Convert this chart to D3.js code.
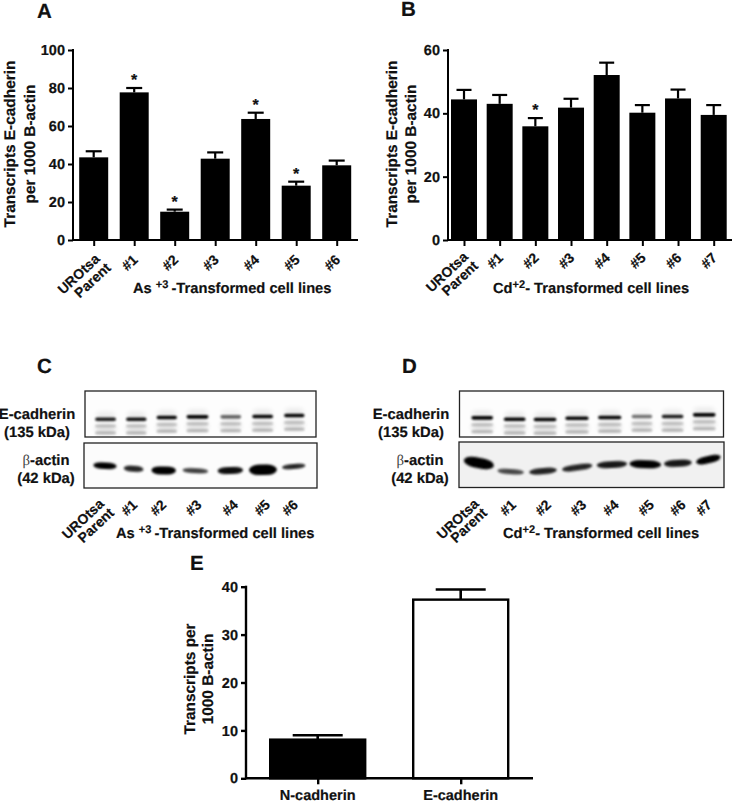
<!DOCTYPE html>
<html><head><meta charset="utf-8">
<script src="https://cdn.jsdelivr.net/npm/d3@7/dist/d3.min.js"></script>
<style>
html,body{margin:0;padding:0;background:#fff}
svg{display:block}
text{font-family:"Liberation Sans",Arial,sans-serif;font-weight:bold;fill:#111;stroke:#111;stroke-width:.2px;text-rendering:geometricPrecision}
</style></head><body><div id="c"></div>
<script>
// ---------- bar chart data ----------
const asLines=["UROtsa Parent","#1","#2","#3","#4","#5","#6"];
const asValues=[43.5,77.7,14.9,42.8,63.7,28.6,39.3];
const asErrorTops=[46.7,80,16,46.1,67,30.7,41.8];
const asStars=["#1","#2","#4","#5"];
const asTicks=[0,20,40,60,80,100];
const cdLines=["UROtsa Parent","#1","#2","#3","#4","#5","#6","#7"];
const cdValues=[44.4,43,35.9,41.8,52.1,40.2,44.7,39.5];
const cdErrorTops=[47.4,45.8,38.5,44.6,56,42.6,47.5,42.6];
const cdStars=["#2"];
const cdTicks=[0,20,40,60];
const cadherins=["N-cadherin","E-cadherin"];
const cadherinValues=[8.07,37.3];
const cadherinErrorTops=[9,39.4];
const cadherinTicks=[0,10,20,30,40];
// ---------- western blot readings (lane centre, migration: fractions of the membrane) ----------
const cEcadLane=[.089,.222,.354,.487,.631,.769,.906];
const cEcadMig=[.613,.613,.577,.562,.562,.555,.533];
const cEcadInt=[.9,.95,1,1,.6,1,1];
const cEcadWidth=[.09,.088,.088,.095,.09,.09,.088];
const cActLane=[.09,.213,.342,.478,.628,.768,.9];
const cActMig=[.507,.573,.61,.617,.61,.596,.522];
const cActInt=[1,.85,1,.75,.95,1,.85];
const cActThick=[1,.9,1.25,.8,1.1,1.6,.8];
const cActWidth=[.1,.085,.105,.11,.11,.12,.1];
const cActTilt=[3,4,1,3,-2,-1,-5];
const dEcadLane=[.086,.209,.324,.445,.569,.691,.807,.927];
const dEcadMig=[.584,.613,.62,.591,.577,.555,.555,.518];
const dEcadInt=[1,1,1,1,1,.55,.9,1];
const dEcadWidth=[.082,.082,.086,.088,.088,.078,.082,.086];
const dActLane=[.075,.195,.317,.446,.577,.703,.826,.941];
const dActMig=[.46,.65,.64,.56,.496,.489,.467,.387];
const dActInt=[1,.7,.85,.85,.9,1,.9,1];
const dActThick=[1.6,.8,.95,.95,1.05,1.25,1.05,1.1];
const dActWidth=[.115,.1,.105,.115,.115,.12,.105,.095];
const dActTilt=[11,4,-5,-8,-3,2,-3,-13];
// lane label centres on the blots, as fractions of each membrane
const cLabelLanes=[.065,.2,.325,.478,.636,.775,.896];
const dLabelLanes=[.058,.191,.324,.457,.58,.714,.834,.933];

const W=734,H=803;
const svg=d3.select("#c").append("svg").attr("width",W).attr("height",H).attr("viewBox",[0,0,W,H]);
const defs=svg.append("defs");
function blurFilter(id,sd){
  defs.append("filter").attr("id",id).attr("x","-20%").attr("y","-100%").attr("width","140%").attr("height","300%")
    .append("feGaussianBlur").attr("stdDeviation",sd);
}
blurFilter("blurThin",.8);
blurFilter("blur",1);
blurFilter("blurWide",2.6);

function letter(t,x,y){svg.append("text").attr("x",x).attr("y",y).attr("font-size",20.5).text(t);}

function supLabel(parts,x,y){
  const t=svg.append("text").attr("x",x).attr("y",y).attr("font-size",14.7);
  parts.forEach(([s,sup])=>{
    t.append("tspan").attr("font-size",sup===1?11:14.7).attr("dy",sup===1?-5:sup===-1?5:0).text(s);
  });
}

function rotLabel(text,x,y){
  svg.append("text").attr("transform",`translate(${x},${y}) rotate(-43)`)
    .attr("text-anchor","end").attr("font-size",14).text(text);
}

function barPanel(o){
  const lw=o.lw||2;
  const y=d3.scaleLinear().domain(o.domain).range([o.y0,o.y1]);
  const x=d3.scalePoint().domain(o.cats).range([o.cx0,o.cx1]);
  const g=svg.append("g");
  o.cats.forEach((c,i)=>{
    const cx=x(c);
    g.append("line").attr("x1",cx).attr("x2",cx).attr("y1",y(o.vals[i])).attr("y2",y(o.errs[i])).attr("stroke","#000").attr("stroke-width",lw+.2);
    g.append("line").attr("x1",cx-o.cap/2).attr("x2",cx+o.cap/2).attr("y1",y(o.errs[i])).attr("y2",y(o.errs[i])).attr("stroke","#000").attr("stroke-width",lw+.2);
  });
  g.selectAll("rect.bar").data(o.cats).join("rect").attr("class","bar")
    .attr("x",c=>x(c)-o.bw/2).attr("width",o.bw)
    .attr("y",(c,i)=>y(o.vals[i])).attr("height",(c,i)=>y(0)-y(o.vals[i]))
    .attr("fill",(c,i)=>o.fills?o.fills[i]:"#000")
    .attr("stroke","#000").attr("stroke-width",o.sw||0);
  const ay=g.append("g").attr("transform",`translate(${o.ax},0)`)
    .call(d3.axisLeft(y).tickValues(o.ticks).tickSize(5).tickPadding(3).tickFormat(d3.format("d")));
  ay.select(".domain").remove();
  g.append("line").attr("x1",o.ax).attr("x2",o.ax).attr("y1",y(o.domain[1])-1).attr("y2",y(0)+1).attr("stroke","#000").attr("stroke-width",lw);
  ay.selectAll("line").attr("stroke","#000").attr("stroke-width",lw);
  ay.selectAll("text").attr("font-size",14.5).style("fill","#111");
  ay.attr("font-family",null).attr("font-size",null);
  const ax=g.append("g").attr("transform",`translate(0,${y(0)})`)
    .call(d3.axisBottom(x).tickSize(6).tickFormat(""));
  ax.select(".domain").remove();
  g.append("line").attr("x1",o.ax).attr("x2",o.axEnd).attr("y1",y(0)).attr("y2",y(0)).attr("stroke","#000").attr("stroke-width",lw);
  ax.selectAll("line").attr("stroke","#000").attr("stroke-width",lw);
  (o.stars||[]).forEach(c=>{
    const i=o.cats.indexOf(c);
    g.append("text").attr("x",x(c)).attr("y",y(o.errs[i])-3).attr("text-anchor","middle").attr("font-size",16).text("*");
  });
  o.title.forEach((t,i)=>{
    svg.append("text").attr("transform",`translate(${o.titleX+i*o.titleGap},${o.titleY}) rotate(-90)`)
      .attr("text-anchor","middle").attr("font-size",15.4).text(t);
  });
  return x;
}

function lineTickLabels(cats,x,yEnd,uroDx,parentDx,numDx){
  cats.forEach(c=>{
    if(c==="UROtsa Parent"){
      rotLabel("UROtsa",x(c)+uroDx,yEnd);
      rotLabel("Parent",x(c)+parentDx,yEnd+9);
    } else rotLabel(c,x(c)+numDx,yEnd+1);
  });
}

// Panel A
const xA=barPanel({cats:asLines,vals:asValues,errs:asErrorTops,stars:asStars,ticks:asTicks,domain:[0,100],
  y0:240,y1:50,cx0:93.7,cx1:336.7,bw:29,cap:16,ax:73,axEnd:358,
  title:["Transcripts E-cadherin","per 1000 B-actin"],titleX:15,titleGap:19.5,titleY:144});
lineTickLabels(asLines,xA,260,7,18,4.5);
letter("A",37,17.5);
supLabel([["As ",0],["+3 ",1],["-Transformed cell lines",-1]],133,293);

// Panel B
const xB=barPanel({cats:cdLines,vals:cdValues,errs:cdErrorTops,stars:cdStars,ticks:cdTicks,domain:[0,60],
  y0:240,y1:50,cx0:464,cx1:713.7,bw:26,cap:15,ax:448,axEnd:732,
  title:["Transcripts E-cadherin","per 1000 B-actin"],titleX:396.5,titleGap:19,titleY:144});
lineTickLabels(cdLines,xB,258,5,15,4.3);
letter("B",401,16);
supLabel([["Cd",0],["+2",1],["- Transformed cell lines",-1]],493,293);

// Blots
let clipN=0;
function membrane(box,bg){
  const id="clip"+(clipN++);
  defs.append("clipPath").attr("id",id).append("rect").attr("x",box[0]).attr("y",box[1]).attr("width",box[2]-box[0]).attr("height",box[3]-box[1]);
  svg.append("rect").attr("x",box[0]).attr("y",box[1]).attr("width",box[2]-box[0]).attr("height",box[3]-box[1]).attr("fill",bg);
  const g=svg.append("g").attr("clip-path",`url(#${id})`);
  return {g,
    sx:d3.scaleLinear().domain([0,1]).range([box[0],box[2]]),
    sy:d3.scaleLinear().domain([0,1]).range([box[1],box[3]]),
    frame(){svg.append("rect").attr("x",box[0]).attr("y",box[1]).attr("width",box[2]-box[0]).attr("height",box[3]-box[1])
      .attr("fill","none").attr("stroke","#222").attr("stroke-width",1.3);}};
}
function band(m,lane,mig,w,th,op,tilt,filter,rx){
  const cx=m.sx(lane),cy=m.sy(mig),bw=m.sx(w)-m.sx(0);
  m.g.append("rect").attr("x",cx-bw/2).attr("y",cy-th/2).attr("width",bw).attr("height",th).attr("rx",rx||th/2).attr("ry",th/2)
    .attr("fill","#000").attr("opacity",op).attr("filter",`url(#${filter||"blur"})`)
    .attr("transform",`rotate(${tilt||0},${cx},${cy})`);
}
function ecadBlot(box,lanes,migs,ints,widths){
  const m=membrane(box,"#fdfdfd");
  lanes.forEach((l,i)=>{
    band(m,l,migs[i]-.09,widths[i]*.9,6,.08*ints[i],0,"blurWide");
    band(m,l,migs[i]+.2,widths[i],11,.1,0,"blurWide");
    band(m,l,migs[i]+.15,widths[i],2.5,.2,0);
    band(m,l,migs[i]+.3,widths[i],3,.24,0);
    band(m,l,migs[i],widths[i],3.6,ints[i],0,"blurThin");
  });
  m.frame();
}
function actBlot(box,bg,lanes,migs,ints,thicks,widths,tilts){
  const m=membrane(box,bg);
  lanes.forEach((l,i)=>{
    const bw=m.sx(widths[i])-m.sx(0);
    band(m,l,migs[i],widths[i],6.5*thicks[i],ints[i],tilts[i],"blur",bw*.35);
  });
  m.frame();
}
ecadBlot([85,391,316,437],cEcadLane,cEcadMig,cEcadInt,cEcadWidth);
actBlot([84,443,317,488],"#fcfcfc",cActLane,cActMig,cActInt,cActThick,cActWidth,cActTilt);
ecadBlot([459.5,391,723.5,437],dEcadLane,dEcadMig,dEcadInt,dEcadWidth);
actBlot([459,442,724,487.5],"#f1f1f1",dActLane,dActMig,dActInt,dActThick,dActWidth,dActTilt);

function blotLabels(cx1,cx2){
  const mid=(t,x,y)=>svg.append("text").attr("x",x).attr("y",y).attr("text-anchor","middle").attr("font-size",14.8).text(t);
  mid("E-cadherin",cx1,419);
  mid("(135 kDa)",cx1,437);
  const b=svg.append("text").attr("x",cx2).attr("y",465).attr("text-anchor","middle").attr("font-size",14.8);
  b.append("tspan").style("font-family","'Liberation Serif',serif").style("font-weight","normal").style("fill","#444").style("stroke","none").text("β");
  b.append("tspan").text("-actin");
  mid("(42 kDa)",cx2,483);
}
blotLabels(37,46);
blotLabels(411,420);
letter("C",37,372.5);
letter("D",402,372.5);

// blot lane labels
const cLabelX=d3.scaleOrdinal().domain(asLines).range(cLabelLanes.map(d3.scaleLinear().domain([0,1]).range([85,316])));
const dLabelX=d3.scaleOrdinal().domain(cdLines).range(dLabelLanes.map(d3.scaleLinear().domain([0,1]).range([459.5,723.5])));
lineTickLabels(asLines,cLabelX,505,5,15,7);
lineTickLabels(cdLines,dLabelX,505,5,13,7);
supLabel([["As ",0],["+3 ",1],["-Transformed cell lines",-1]],116,538);
supLabel([["Cd",0],["+2",1],["- Transformed cell lines",-1]],503,538);

// Panel E
const xE=barPanel({cats:cadherins,vals:cadherinValues,errs:cadherinErrorTops,ticks:cadherinTicks,domain:[0,40],
  y0:778.3,y1:586.7,cx0:317.7,cx1:460.7,bw:95,cap:50,ax:246,axEnd:533,sw:2.4,lw:2.4,fills:["#000","#fff"],
  title:["Transcripts per","1000 B-actin"],titleX:195,titleGap:18.3,titleY:679});
cadherins.forEach(c=>svg.append("text").attr("x",xE(c)).attr("y",800).attr("text-anchor","middle").attr("font-size",14.5).text(c));
letter("E",190,570);
</script></body></html>
